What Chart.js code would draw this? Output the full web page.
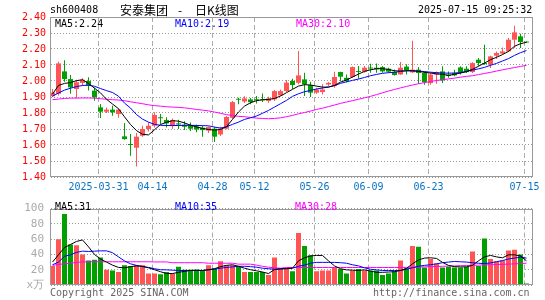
<!DOCTYPE html>
<html>
<head>
<meta charset="utf-8">
<script src="https://cdn.jsdelivr.net/npm/chart.js@4/dist/chart.umd.min.js"></script>
<style>
body{margin:0;background:#fff;}
#wrap{position:relative;width:545px;height:300px;overflow:hidden;font-family:"DejaVu Sans Mono",monospace;font-size:10px;}
#wrap canvas{position:absolute;left:0;}
.t{position:absolute;white-space:pre;line-height:10px;}
.cjk{font-family:"Noto Sans CJK SC",sans-serif;font-size:12px;line-height:12px;}
</style>
</head>
<body>
<div id="wrap">
  <canvas id="kline" width="545" height="195" style="top:0"></canvas>
  <canvas id="vol" width="545" height="105" style="top:195px"></canvas>

  <div class="t" style="left:50px;top:5px;color:#000">sh600408</div>
  <div class="t cjk" style="left:120px;top:4px;color:#000">安泰集团</div>
  <div class="t cjk" style="left:178px;top:4px;color:#000">-</div>
  <div class="t cjk" style="left:195px;top:4px;color:#000">日K线图</div>
  <div class="t" style="left:418px;top:5px;color:#000">2025-07-15 09:25:32</div>

  <div class="t" style="left:55px;top:19px;color:#000">MA5:2.24</div>
  <div class="t" style="left:175px;top:19px;color:#0000ff">MA10:2.19</div>
  <div class="t" style="left:296px;top:19px;color:#ff00ff">MA30:2.10</div>

  <div class="t" style="left:55px;top:202px;color:#000">MA5:31</div>
  <div class="t" style="left:175px;top:202px;color:#0000ff">MA10:35</div>
  <div class="t" style="left:295px;top:202px;color:#ff00ff">MA30:28</div>

  <div class="t" style="left:50px;top:288px;color:#666">Copyright 2025 SINA.COM</div>
  <div class="t" style="left:373px;top:288px;color:#666">http://finance.sina.com.cn</div>
</div>

<script>
// trading days shown (03-19 .. 07-15)
var dates = [
  '03-19','03-20','03-21','03-24','03-25','03-26','03-27','03-28','03-31',
  '04-01','04-02','04-03','04-07','04-08','04-09','04-10','04-11','04-14','04-15','04-16','04-17','04-18','04-21','04-22','04-23','04-24','04-25','04-28','04-29','04-30',
  '05-06','05-07','05-08','05-09','05-12','05-13','05-14','05-15','05-16','05-19','05-20','05-21','05-22','05-23','05-26','05-27','05-28','05-29','05-30',
  '06-03','06-04','06-05','06-06','06-09','06-10','06-11','06-12','06-13','06-16','06-17','06-18','06-19','06-20','06-23','06-24','06-25','06-26','06-27','06-30',
  '07-01','07-02','07-03','07-04','07-07','07-08','07-09','07-10','07-11','07-14','07-15'
];
var tickDates  = ['03-31','04-14','04-28','05-12','05-26','06-09','06-23','07-15'];
var tickLabels = ['2025-03-31','04-14','04-28','05-12','05-26','06-09','06-23','07-15'];
var priceTicks = [1.40,1.50,1.60,1.70,1.80,1.90,2.00,2.10,2.20,2.30,2.40];
var volTicks = [0,20,40,60,80,100];

var opens = [
  1.905,1.92,2.06,2.012,1.95,1.988,2.0,1.94,1.835,1.808,
  1.821,1.794,1.654,1.606,1.583,1.658,1.70,1.721,1.773,1.756,
  1.718,1.735,1.727,1.722,1.716,1.708,1.69,1.702,1.666,1.702,
  1.77,1.887,1.872,1.885,1.885,1.885,1.875,1.885,1.91,1.937,
  2.0,1.989,2.01,1.975,1.927,1.931,1.978,1.968,2.056,2.02,
  2.025,2.06,2.058,2.083,2.083,2.087,2.077,2.058,2.041,2.09,
  2.054,2.071,2.05,1.987,2.04,2.06,2.04,2.05,2.085,2.077,
  2.056,2.133,2.112,2.102,2.158,2.171,2.185,2.258,2.279,2.24
];
var closes = [
  1.928,2.11,2.012,1.96,1.992,2.008,1.971,1.898,1.808,1.821,
  1.804,1.821,1.637,1.60,1.652,1.70,1.72,1.788,1.767,1.735,
  1.756,1.728,1.714,1.702,1.697,1.693,1.712,1.652,1.702,1.775,
  1.868,1.883,1.891,1.868,1.88,1.879,1.891,1.937,1.937,1.99,
  1.975,2.035,1.979,1.927,1.947,1.947,1.988,2.025,2.027,2.0,
  2.087,2.056,2.083,2.078,2.073,2.06,2.058,2.037,2.083,2.068,
  2.071,2.05,1.992,2.04,2.054,2.004,2.032,2.035,2.056,2.056,
  2.112,2.112,2.106,2.154,2.175,2.185,2.258,2.304,2.244,2.24
];
var highs = [
  1.95,2.12,2.13,2.037,2.008,2.017,2.023,1.96,1.856,1.835,
  1.846,1.83,1.737,1.669,1.675,1.72,1.742,1.804,1.794,1.773,
  1.765,1.758,1.748,1.74,1.728,1.722,1.715,1.714,1.714,1.781,
  1.875,1.896,1.905,1.893,1.906,1.922,1.902,1.943,1.947,2.006,
  2.014,2.187,2.052,1.995,1.958,1.979,1.993,2.058,2.058,2.04,
  2.09,2.093,2.093,2.108,2.11,2.093,2.083,2.072,2.118,2.104,
  2.252,2.088,2.06,2.05,2.06,2.092,2.06,2.071,2.092,2.092,
  2.117,2.144,2.227,2.158,2.185,2.21,2.269,2.346,2.296,2.24
];
var lows = [
  1.90,1.91,1.996,1.92,1.892,1.97,1.94,1.877,1.769,1.80,
  1.783,1.77,1.633,1.533,1.465,1.652,1.684,1.71,1.731,1.71,
  1.702,1.70,1.693,1.687,1.68,1.652,1.675,1.618,1.656,1.698,
  1.764,1.854,1.862,1.854,1.86,1.868,1.864,1.875,1.906,1.931,
  1.95,1.979,1.906,1.90,1.92,1.916,1.969,1.958,2.0,1.99,
  2.018,2.014,2.052,2.052,2.052,2.052,2.052,2.035,2.037,2.041,
  2.05,1.983,1.977,1.977,1.983,1.987,2.02,2.029,2.04,2.05,
  2.05,2.092,2.102,2.081,2.137,2.165,2.181,2.206,2.206,2.24
];
var ma5 = [
  1.918,1.972,1.985,1.99,2.002,2.008,1.985,1.955,1.926,1.886,
  1.856,1.827,1.776,1.728,1.69,1.667,1.663,1.695,1.728,1.742,
  1.752,1.749,1.738,1.724,1.713,1.704,1.697,1.693,1.697,1.714,
  1.76,1.806,1.843,1.864,1.877,1.883,1.885,1.891,1.906,1.927,
  1.948,1.968,1.977,1.975,1.968,1.962,1.962,1.972,1.993,2.006,
  2.025,2.043,2.06,2.07,2.077,2.077,2.072,2.064,2.062,2.064,
  2.064,2.06,2.054,2.05,2.044,2.042,2.035,2.042,2.05,2.058,
  2.073,2.092,2.112,2.133,2.148,2.165,2.185,2.217,2.233,2.242
];
var ma10 = [
  1.905,1.925,1.943,1.955,1.965,1.972,1.974,1.967,1.953,1.94,
  1.928,1.905,1.862,1.831,1.79,1.762,1.743,1.729,1.723,1.722,
  1.722,1.722,1.723,1.723,1.722,1.721,1.72,1.712,1.706,1.714,
  1.729,1.743,1.76,1.77,1.781,1.798,1.816,1.837,1.858,1.879,
  1.904,1.92,1.933,1.941,1.95,1.956,1.962,1.972,1.985,1.995,
  2.004,2.012,2.022,2.033,2.041,2.048,2.052,2.054,2.06,2.064,
  2.064,2.062,2.059,2.055,2.052,2.05,2.049,2.05,2.053,2.06,
  2.068,2.076,2.085,2.098,2.11,2.125,2.14,2.16,2.177,2.19
];
var ma30 = [
  1.883,1.887,1.891,1.893,1.893,1.894,1.894,1.893,1.889,1.886,
  1.883,1.881,1.877,1.87,1.864,1.858,1.851,1.846,1.843,1.839,
  1.837,1.835,1.832,1.828,1.822,1.818,1.813,1.806,1.798,1.79,
  1.784,1.779,1.777,1.772,1.768,1.766,1.764,1.766,1.77,1.777,
  1.785,1.795,1.803,1.812,1.822,1.83,1.84,1.85,1.86,1.869,
  1.877,1.886,1.895,1.904,1.915,1.926,1.937,1.947,1.957,1.966,
  1.975,1.983,1.99,1.997,2.003,2.008,2.013,2.018,2.024,2.029,
  2.033,2.04,2.047,2.054,2.062,2.07,2.077,2.084,2.091,2.098
];

// volume, 万手
var vol = [
  25,60,93,53,52,40,32,33,36,20,
  19,17,26,25,26,26,15,15,14,17,
  15,24,20,20,20,19,26,22,31,26,
  26,24,17,17,17,17,13,36,22,22,
  18,68,51,39,18,19,19,23,21,15,
  19,21,19,19,19,13,15,18,32,22,
  51,50,23,34,28,23,24,23,23,24,
  44,25,61,34,31,32,45,46,40,2
];
var volMa5 = [
  30,39.5,49,53,57,59,50,40,34,30,
  26,23,22.5,24,25,24.5,22.5,20,17.4,15,
  15,16.6,17.8,19,19.4,19,20,21.3,24,25.7,
  26.5,24.5,22,20,18.6,17,15,20.2,21,21.3,
  22,31.6,35.6,38,38.7,38.7,31.6,25,21.3,19.8,
  19.4,19,19.8,18.2,16.6,16.6,17,17.4,19,21.7,
  27.7,32.8,35.2,35.6,34.8,29.6,25.7,24,23.7,23.7,
  25.7,31.6,36.8,38.7,36.8,35.6,39.5,39.5,38,31.6
];
var volMa10 = [
  26.5,30,37.5,39.5,42.7,44.3,43.9,44.3,44.7,44.7,
  42.3,36.8,31.6,27.7,25.7,24,23,21.3,20,19.8,
  19.4,19,19,19,19,19,19.8,20.6,22,23,
  23.7,24.5,24.5,24,23.3,22,21.3,20.6,21.3,21.7,
  22,24.5,26,28.5,29.6,29.6,29.6,29.6,29.2,28.5,
  26.5,25,22.5,20.6,19.8,19,19,19,19,20.6,
  22.5,24.5,25.7,26.5,27.7,29.2,30,30.8,30.4,30,
  29.2,28.5,28,28.9,30.4,32,34,35.2,36.4,35.2
];
var volMa30 = [
  25.7,26.9,27.7,28.5,29.6,30.2,30.4,30.4,30.4,30.4,
  30.4,30.4,30.4,30.4,30.4,30.4,30.4,30.2,30.2,30.2,
  29.2,29.2,29.2,29.2,29.2,29.2,28.5,28.5,28.5,28.5,
  28.5,27.3,27.3,27.3,26,24.5,23.3,22.5,22,22.9,
  22.9,22.9,22.9,22.9,22.9,22.9,22.9,22.9,22.9,22.9,
  22.9,22.9,22.9,22.9,22.9,22.9,22.9,22.9,22.9,23.1,
  23.3,23.5,23.8,24,24.2,24.5,24.7,25,25.3,25.5,
  25.7,26,26.3,26.5,26.8,27,27.3,27.7,28.1,28.5
];

var RED = '#ff5555', GREEN = '#00a000';
var MONO = "'DejaVu Sans Mono', monospace";

function xy(arr){
  var out = [];
  for(var i=0;i<arr.length;i++){ out.push({x:i, y:arr[i]}); }
  return out;
}
function pairs(a, b){
  var out = [];
  for(var i=0;i<a.length;i++){ out.push({x:i, y:[a[i], b[i]]}); }
  return out;
}
var colors = [];
for(var i=0;i<opens.length;i++){ colors.push(closes[i] > opens[i] ? RED : GREEN); }

var tickIdx = [];
for(var k=0;k<tickDates.length;k++){ tickIdx.push(dates.indexOf(tickDates[k])); }

function maLine(label, arr, color){
  return { type:'line', label:label, data:xy(arr), borderColor:color, borderWidth:1,
           pointRadius:0, tension:0, fill:false, order:0 };
}

// frame drawn on top of the plot area
var frame = {
  id:'frame',
  afterDatasetsDraw: function(c){
    var a = c.chartArea, ctx = c.ctx;
    ctx.save();
    ctx.strokeStyle = '#999';
    ctx.lineWidth = 1;
    ctx.strokeRect(Math.round(a.left)-0.5, Math.round(a.top)+0.5,
                   Math.round(a.right-a.left)+1, Math.round(a.bottom-a.top)-1);
    ctx.restore();
  }
};

function xScale(showLabels, h){
  return {
    type:'linear', min:-0.25, max:79.9167, offset:false,
    afterBuildTicks: function(s){
      s.ticks = tickIdx.map(function(i){ return {value:i - 0.333}; });
    },
    afterFit: function(s){ s.height = h; },
    ticks:{
      display:showLabels, autoSkip:false, maxRotation:0, padding:4,
      color:'#0a74c4', font:{family:MONO, size:10},
      callback: function(v, k){ return tickLabels[k]; }
    },
    grid:{ color:'#aaa', lineWidth:1, drawTicks:false, offset:false },
    border:{ display:false, dash:[5,3] }
  };
}

function yScale(lo, hi, list, color, size, pad, fmt){
  return {
    min:lo, max:hi,
    afterBuildTicks: function(s){ s.ticks = list.map(function(v){ return {value:v}; }); },
    afterFit: function(s){ s.width = 51; },
    ticks:{ color:color, font:{family:MONO, size:size}, padding:pad, autoSkip:false, callback:fmt },
    grid:{ color:'#999', lineWidth:1, drawTicks:false },
    border:{ display:false, dash:[1,2] }
  };
}

new Chart(document.getElementById('kline'), {
  type:'bar',
  data:{ datasets:[
    maLine('MA5', ma5, '#000000'),
    maLine('MA10', ma10, '#0000ff'),
    maLine('MA30', ma30, '#ff00ff'),
    { label:'body', data:pairs(opens, closes), backgroundColor:colors,
      barThickness:5, minBarLength:1, grouped:false, inflateAmount:0, order:1 },
    { label:'wick', data:pairs(lows, highs), backgroundColor:colors,
      barThickness:1, minBarLength:1, grouped:false, inflateAmount:0, order:2 }
  ]},
  options:{
    responsive:false, animation:false, events:[],
    layout:{ padding:{ left:0, right:13, top:17, bottom:0 } },
    plugins:{ legend:{display:false}, tooltip:{enabled:false} },
    scales:{
      x: xScale(true, 18),
      y: yScale(1.40, 2.40, priceTicks, '#ff0000', 10, 5,
                function(v){ return v.toFixed(2); })
    }
  },
  plugins:[frame]
});

new Chart(document.getElementById('vol'), {
  type:'bar',
  data:{ datasets:[
    maLine('MA5', volMa5, '#000000'),
    maLine('MA10', volMa10, '#0000ff'),
    maLine('MA30', volMa30, '#ff00ff'),
    { label:'volume', data:xy(vol), backgroundColor:colors,
      barThickness:5, grouped:false, inflateAmount:0, order:1 }
  ]},
  options:{
    responsive:false, animation:false, events:[],
    layout:{ padding:{ left:0, right:13, top:6, bottom:0 } },
    plugins:{ legend:{display:false}, tooltip:{enabled:false} },
    scales:{
      x: xScale(false, 15),
      y: yScale(0, 100, volTicks, '#aaa', 11, 7,
                function(v){ return v === 0 ? 'x万' : String(v); })
    }
  },
  plugins:[frame]
});
</script>
</body>
</html>
